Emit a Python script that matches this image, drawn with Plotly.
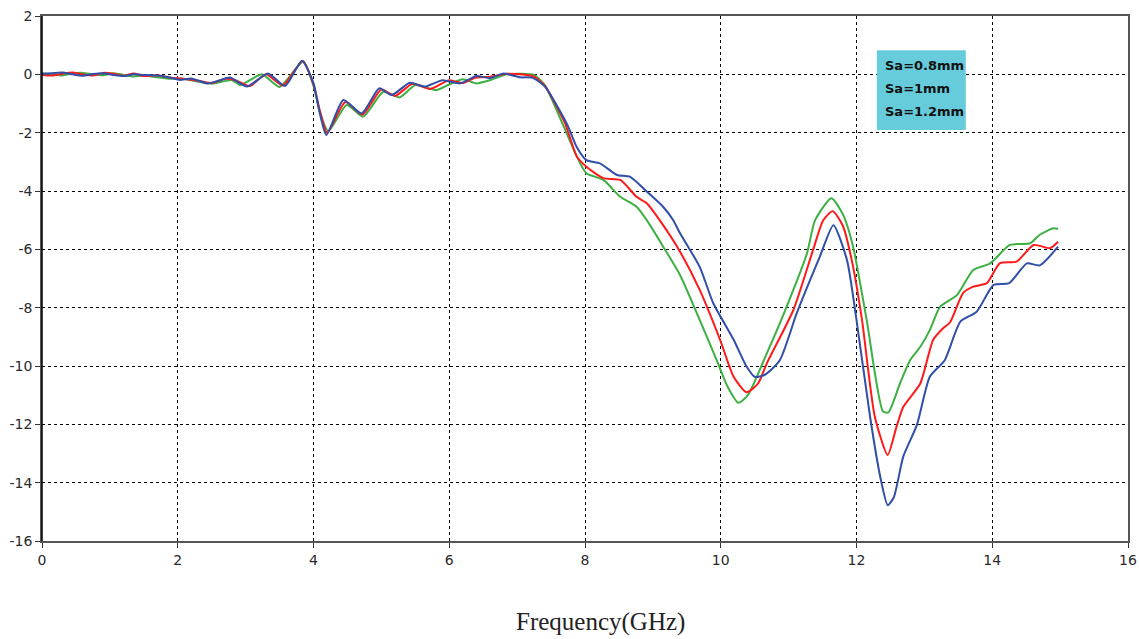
import plotly.graph_objects as go

# Series: Sa=0.8mm (blue)
x_blue = [0, 0.15, 0.3, 0.45, 0.6, 0.75, 0.9, 1.05, 1.2, 1.35, 1.5, 1.74, 1.9, 2.03, 2.2, 2.43, 2.6, 2.77,
          3.02, 3.33, 3.58, 3.83, 4.0, 4.08, 4.19, 4.44, 4.71, 4.97, 5.15, 5.42, 5.64, 5.9, 6.16, 6.4, 6.6,
          6.8, 7.04, 7.23, 7.41, 7.73, 7.88, 8.02, 8.22, 8.47, 8.66, 8.91, 9.15, 9.3, 9.4, 9.69, 9.89,
          10.19, 10.38, 10.5, 10.65, 10.87, 11.12, 11.46, 11.66, 11.86, 12.0, 12.2, 12.35, 12.46, 12.55,
          12.69, 12.89, 13.08, 13.3, 13.53, 13.77, 14.02, 14.25, 14.51, 14.7, 14.97]
y_blue = [0.02, 0.04, 0.06, 0.0, -0.05, 0.01, 0.04, -0.02, -0.06, 0.0, -0.02, -0.05, -0.12, -0.19, -0.14,
          -0.31, -0.22, -0.11, -0.42, 0.03, -0.4, 0.47, -0.3, -1.2, -2.08, -0.88, -1.34, -0.48, -0.71,
          -0.29, -0.42, -0.2, -0.31, -0.06, -0.13, 0.03, -0.1, -0.12, -0.42, -1.68, -2.5, -2.94, -3.05,
          -3.45, -3.51, -4.02, -4.54, -5.0, -5.45, -6.6, -7.85, -9.1, -10.02, -10.37, -10.3, -9.8, -8.19,
          -6.25, -5.17, -6.37, -8.42, -11.74, -13.8, -14.77, -14.5, -13.1, -12.02, -10.37, -9.8, -8.48,
          -8.14, -7.22, -7.16, -6.48, -6.55, -5.91]

# Series: Sa=1mm (red)
x_red = [0, 0.15, 0.3, 0.45, 0.6, 0.75, 0.9, 1.05, 1.2, 1.35, 1.5, 1.7, 1.9, 2.1, 2.3, 2.5, 2.7, 2.85,
         3.06, 3.3, 3.55, 3.84, 4.0, 4.1, 4.2, 4.47, 4.72, 5.0, 5.2, 5.46, 5.72, 6.0, 6.2, 6.38, 6.6,
         6.85, 7.05, 7.25, 7.41, 7.7, 7.88, 8.02, 8.27, 8.52, 8.76, 8.91, 9.1, 9.4, 9.69, 9.99, 10.19,
         10.38, 10.55, 10.68, 11.07, 11.36, 11.51, 11.65, 11.8, 11.93, 12.08, 12.27, 12.46, 12.59, 12.69,
         12.94, 13.13, 13.28, 13.38, 13.57, 13.72, 13.92, 14.11, 14.36, 14.61, 14.85, 14.97]
y_red = [-0.02, -0.04, 0.02, 0.06, 0.0, -0.04, 0.05, 0.02, -0.05, 0.03, -0.06, -0.03, -0.12, -0.16,
         -0.22, -0.3, -0.15, -0.2, -0.4, 0.0, -0.38, 0.46, -0.35, -1.3, -2.0, -0.95, -1.38, -0.52, -0.74,
         -0.32, -0.5, -0.2, -0.3, -0.12, -0.08, 0.02, 0.0, -0.08, -0.4, -1.65, -2.82, -3.17, -3.56, -3.62,
         -4.2, -4.42, -5.0, -6.08, -7.39, -9.1, -10.37, -10.9, -10.6, -9.9, -8.08, -6.02, -5.0, -4.69,
         -5.2, -6.37, -8.4, -11.74, -13.05, -12.08, -11.4, -10.6, -9.1, -8.7, -8.5, -7.5, -7.28, -7.16,
         -6.48, -6.42, -5.85, -5.96, -5.74]

# Series: Sa=1.2mm (green)
x_green = [0, 0.15, 0.3, 0.45, 0.6, 0.75, 0.9, 1.05, 1.2, 1.35, 1.5, 1.7, 1.9, 2.05, 2.3, 2.5, 2.8,
           2.92, 3.24, 3.5, 3.85, 4.0, 4.1, 4.22, 4.49, 4.73, 5.03, 5.27, 5.5, 5.81, 6.0, 6.2, 6.4, 6.6,
           6.85, 7.05, 7.25, 7.41, 7.68, 7.88, 8.02, 8.27, 8.52, 8.76, 8.91, 9.15, 9.4, 9.69, 9.94, 10.1,
           10.26, 10.4, 10.68, 10.97, 11.27, 11.39, 11.63, 11.8, 11.95, 12.15, 12.39, 12.47, 12.64, 12.79,
           12.94, 13.08, 13.23, 13.48, 13.72, 13.97, 14.26, 14.56, 14.7, 14.9, 14.97]
y_green = [0.03, 0.0, -0.04, 0.03, 0.05, 0.0, -0.03, 0.04, -0.02, -0.07, -0.04, -0.1, -0.15, -0.14,
           -0.25, -0.32, -0.2, -0.37, 0.0, -0.43, 0.44, -0.4, -1.35, -1.95, -1.05, -1.45, -0.6, -0.79,
           -0.37, -0.54, -0.35, -0.17, -0.31, -0.2, 0.0, 0.02, -0.02, -0.38, -1.75, -2.82, -3.39, -3.62,
           -4.2, -4.54, -5.0, -5.9, -6.88, -8.42, -9.8, -10.7, -11.26, -11.0, -9.56, -7.97, -6.14, -5.0,
           -4.25, -4.8, -5.91, -8.42, -11.56, -11.59, -10.6, -9.8, -9.34, -8.77, -7.97, -7.57, -6.71,
           -6.48, -5.85, -5.79, -5.5, -5.28, -5.3]

legend_labels = ["Sa=0.8mm", "Sa=1mm", "Sa=1.2mm"]
x_ticks = [0, 2, 4, 6, 8, 10, 12, 14, 16]
y_ticks = [2, 0, -2, -4, -6, -8, -10, -12, -14, -16]

fig = go.Figure()
for xs, ys, name, col in [(x_green, y_green, legend_labels[2], "#3cb043"),
                          (x_red, y_red, legend_labels[1], "#ff1a1a"),
                          (x_blue, y_blue, legend_labels[0], "#2f4fa8")]:
    fig.add_trace(go.Scatter(x=xs, y=ys, mode="lines", name=name, showlegend=False,
                             line=dict(color=col, width=2, shape="spline", smoothing=0.6)))

axis_common = dict(showgrid=True, gridcolor="#000000", griddash="3px,3px", gridwidth=1,
                   showline=True, linecolor="#555555", linewidth=1.5, mirror=True,
                   ticks="outside", ticklen=5, tickcolor="#333333", zeroline=False,
                   automargin=False,
                   tickfont=dict(family="DejaVu Sans", size=14, color="#2a2a2a"))

fig.update_xaxes(range=[0, 16], tickvals=x_ticks, ticktext=[str(v) for v in x_ticks], **axis_common)
fig.update_yaxes(range=[-16, 2], tickvals=y_ticks, ticktext=[str(v) for v in y_ticks], **axis_common)

# black left axis line as in the reference
fig.add_shape(type="line", xref="paper", yref="paper", x0=0, x1=0, y0=0, y1=1,
              line=dict(color="#000000", width=1.5))

# legend box (text only, cyan background)
fig.add_shape(type="rect", xref="x", yref="y", x0=12.3, x1=13.61, y0=0.83, y1=-1.91,
              fillcolor="#66cbdb", line=dict(width=0), layer="above")
legend_y = [0.286, -0.469, -1.257]
for lab, yy in zip(legend_labels, legend_y):
    fig.add_annotation(xref="x", yref="y", x=12.39, y=yy, xanchor="left", yanchor="middle",
                       text=lab, showarrow=False,
                       font=dict(family="DejaVu Sans", size=13, color="#111111", weight="bold"))

fig.add_annotation(xref="paper", yref="paper", x=(600 - 42) / 1086, y=-(638 - 541) / 525,
                   text="Frequency(GHz)", showarrow=False, xanchor="center", yanchor="bottom",
                   font=dict(family="Liberation Serif", size=25, color="#222222"))

fig.update_layout(width=1139, height=639, margin=dict(l=42, r=11, t=16, b=98),
                  plot_bgcolor="white", paper_bgcolor="white")

fig.write_html("out.html", config={"displayModeBar": False},
               post_script="document.body.style.margin='0';document.body.style.overflow='hidden';")
